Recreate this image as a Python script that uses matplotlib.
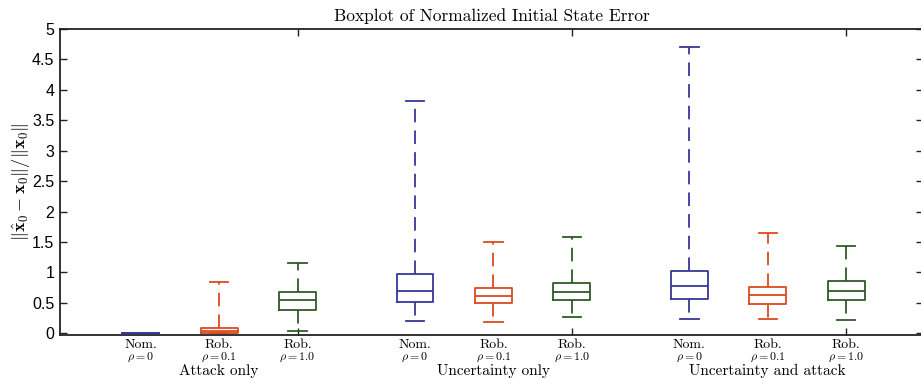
import matplotlib
matplotlib.use("Agg")
import matplotlib.pyplot as plt

# ---- data ----
box_names = ['Nom.', 'Rob.', 'Rob.', 'Nom.', 'Rob.', 'Rob.', 'Nom.', 'Rob.', 'Rob.']
rho_labels = ['0', '0.1', '1.0', '0', '0.1', '1.0', '0', '0.1', '1.0']
groups = ['Attack only', 'Uncertainty only', 'Uncertainty and attack']
whislo = [0.00, 0.00, 0.04, 0.20, 0.19, 0.27, 0.23, 0.23, 0.22]
q1     = [0.00, 0.00, 0.38, 0.52, 0.49, 0.55, 0.56, 0.475, 0.55]
med    = [0.005, 0.03, 0.55, 0.70, 0.61, 0.68, 0.78, 0.62, 0.69]
q3     = [0.01, 0.08, 0.68, 0.98, 0.75, 0.83, 1.03, 0.76, 0.85]
whishi = [0.01, 0.84, 1.16, 3.82, 1.50, 1.58, 4.70, 1.64, 1.44]
yticks = [0, 0.5, 1, 1.5, 2, 2.5, 3, 3.5, 4, 4.5, 5]
ytick_labels = ['0', '0.5', '1', '1.5', '2', '2.5', '3', '3.5', '4', '4.5', '5']

positions = [1, 2, 3, 4.5, 5.5, 6.5, 8, 9, 10]
xtick_positions = [3, 6.5, 10]
group_centers = [2, 5.5, 9]
colors = ['#37379c', '#dc4a1e', '#2e5a26'] * 3

plt.rcParams['mathtext.fontset'] = 'cm'

W, H = 921, 379
fig = plt.figure(figsize=(W / 100, H / 100), dpi=100)
ax_l, ax_r, ax_t, ax_b = 60, 923, 29, 335
ax = fig.add_axes([ax_l / W, 1 - ax_b / H, (ax_r - ax_l) / W, (ax_b - ax_t) / H])

for i in range(len(positions)):
    st = dict(whislo=whislo[i], q1=q1[i], med=med[i], q3=q3[i],
              whishi=whishi[i], fliers=[])
    c = colors[i]
    ax.bxp([st], positions=[positions[i]], widths=0.47, showfliers=False,
           boxprops=dict(color=c, linewidth=1.3),
           medianprops=dict(color=c, linewidth=1.3),
           whiskerprops=dict(color=c, linewidth=1.3, linestyle=(0, (7.5, 4.5))),
           capprops=dict(color=c, linewidth=1.3),
           manage_ticks=False)

ax.set_xlim(-0.03, 10.98)
ax.set_ylim(-0.03, 5)
ax.set_yticks(yticks)
ax.set_yticklabels(ytick_labels, fontfamily='Liberation Sans', fontsize=11.5)
ax.set_xticks(xtick_positions)
ax.set_xticklabels([])
ax.tick_params(axis='both', direction='in', length=5, width=1.0, color='#222222')
ax.tick_params(axis='x', top=True)
ax.tick_params(axis='y', right=True, pad=4)
for s in ax.spines.values():
    s.set_linewidth(1.3)
    s.set_color('#222222')

tr = ax.get_xaxis_transform()
axh = ax_b - ax_t
def yax(ypix):
    return (ax_b - ypix) / axh

for p, n, r in zip(positions, box_names, rho_labels):
    ax.text(p, yax(344.5), n, transform=tr, ha='center', va='center',
            fontfamily='cmr10', fontsize=10)
    ax.text(p, yax(357), r'$\rho = %s$' % r, transform=tr, ha='center', va='center',
            fontsize=8.6)
for gc, g in zip(group_centers, groups):
    ax.text(gc, yax(371), g, transform=tr, ha='center', va='center',
            fontfamily='cmr10', fontsize=11)

ax.set_title('Boxplot of Normalized Initial State Error', fontfamily='cmr10',
             fontsize=12.5, pad=6)
ax.set_ylabel(r'$\|\hat{\mathbf{x}}_0-\mathbf{x}_0\|/\|\mathbf{x}_0\|$', fontsize=13,
              labelpad=-1)

fig.savefig('out.png', dpi=100)
